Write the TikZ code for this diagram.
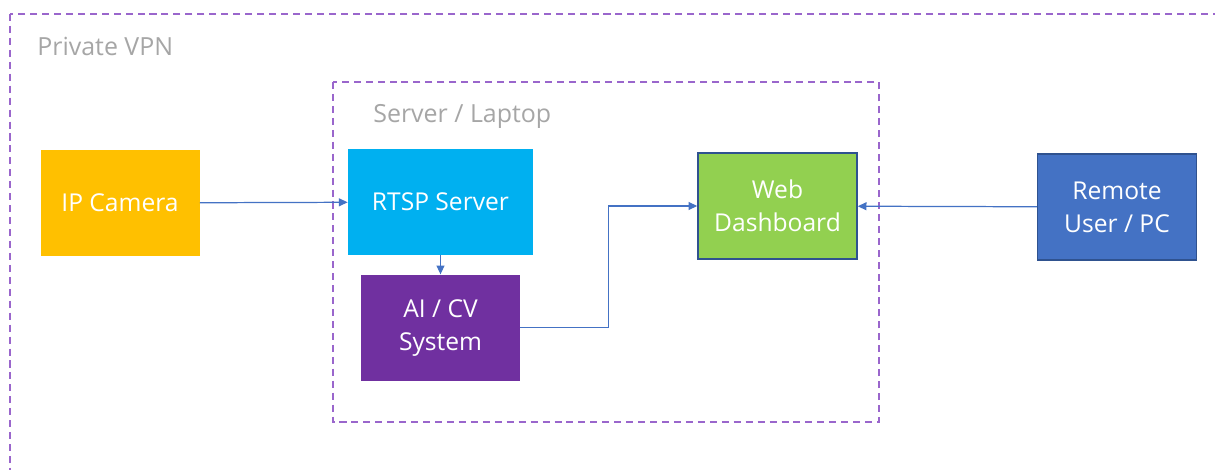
\documentclass[tikz,border=0pt]{standalone}
\usepackage{fontspec}
\setmainfont{Open Sans}
\usepackage{xcolor}
\usetikzlibrary{arrows.meta, positioning}
\definecolor{camyellow}{HTML}{FFC000}
\definecolor{rtspblue}{HTML}{00B0F0}
\definecolor{aipurple}{HTML}{7030A0}
\definecolor{webgreen}{HTML}{92D050}
\definecolor{userblue}{HTML}{4472C4}
\definecolor{edgeblue}{HTML}{2F528F}
\definecolor{linkblue}{HTML}{4472C4}
\definecolor{zonepurple}{HTML}{9A66CC}
\definecolor{zonegray}{HTML}{A6A6A6}
\tikzset{
  box/.style={rectangle, minimum height=106*0.02cm, minimum width=159*0.02cm, align=center, text=white, font=\fontsize{14}{18.7}\selectfont},
  arrow/.style={-{Triangle[length=5pt, width=4.5pt]}, linkblue, line width=0.7pt},
  zone/.style={draw=zonepurple, dash pattern=on 4pt off 2.8pt, line width=1.1pt},
  zonelabel/.style={anchor=north west, text=zonegray, inner sep=0pt, font=\fontsize{14.2}{17}\selectfont},
}

\begin{document}
\begin{tikzpicture}[x=0.02cm, y=-0.02cm]
    \clip (0,0) rectangle (1215,470);
    \fill[white] (0,0) rectangle (1215,470);

    % network and host boundaries
    \draw[zone] (10,14) rectangle (1240,500);
    \node[zonelabel] (vpnlabel) at (37,37) {Private VPN};
    \draw[zone] (333,82) rectangle (879,422);
    \node[zonelabel] (hostlabel) at (373,104) {Server / Laptop};

    \node[box, fill=camyellow] (camera) at (120,203) {IP Camera};
    \node[box, fill=rtspblue, minimum width=185*0.02cm] (rtsp) at (440.5,202) {RTSP Server};
    \node[box, fill=aipurple, below=19*0.02cm of rtsp] (ai) {AI / CV\\System};
    \node[box, fill=webgreen, draw=edgeblue, line width=0.8pt] (web) at (777.5,206) {Web\\Dashboard};
    \node[box, fill=userblue, draw=edgeblue, line width=0.8pt] (remote) at (1117,207) {Remote\\User / PC};

    \draw[arrow] (camera) -- (rtsp);
    \draw[arrow] (rtsp) -- (ai);
    \draw[arrow] (ai.east) -- ++(88,0) |- (web.west);
    \draw[arrow] (remote) -- (web);
  \end{tikzpicture}
\end{document}
